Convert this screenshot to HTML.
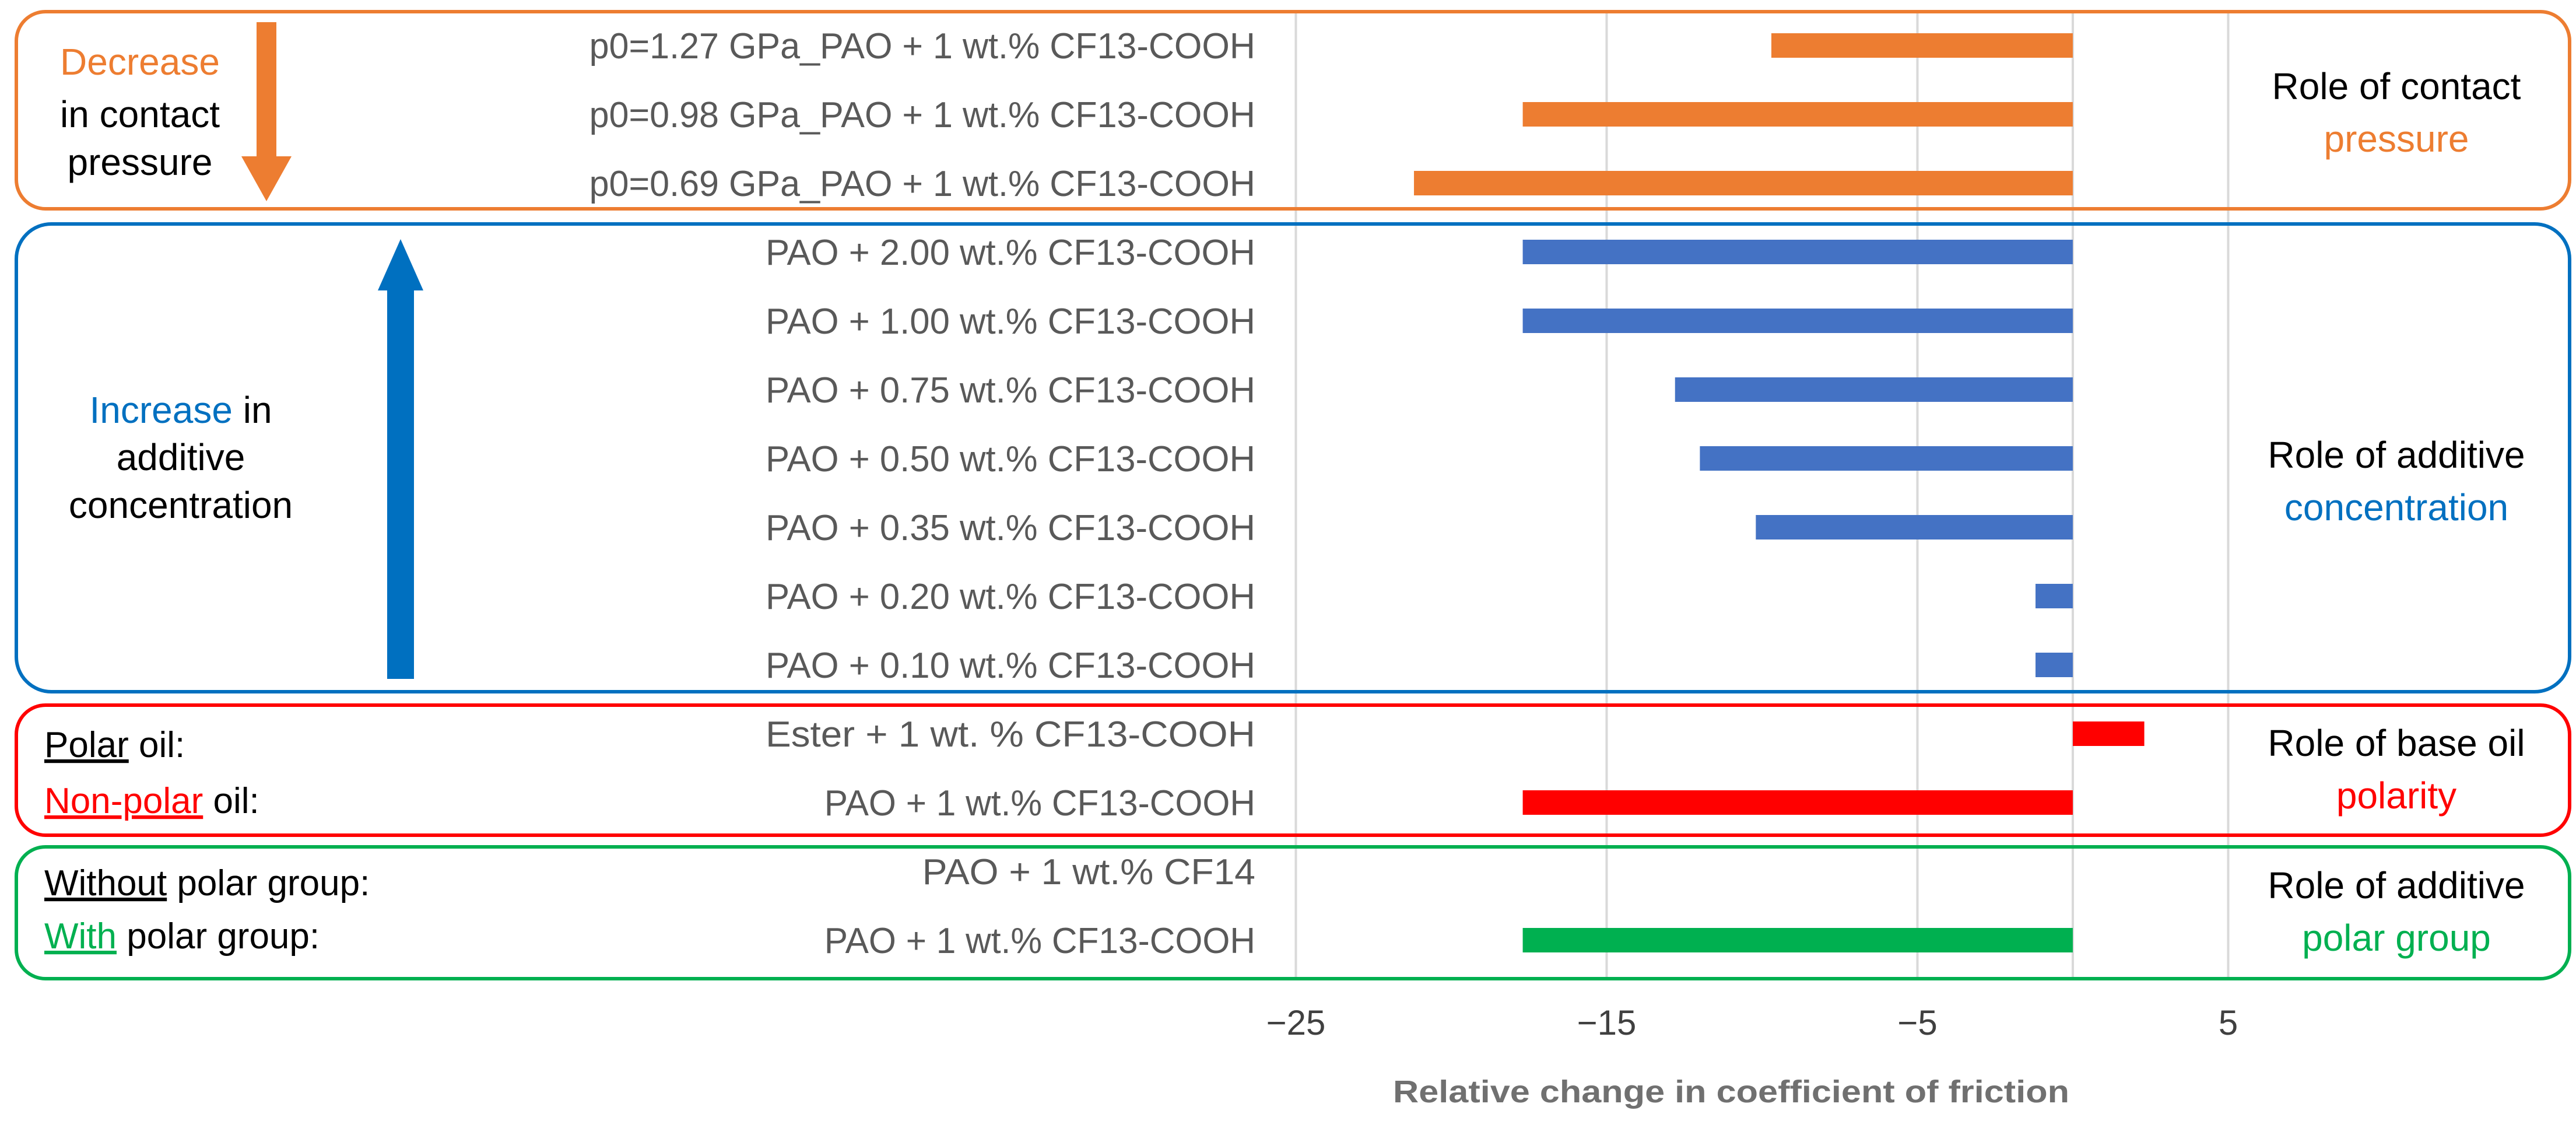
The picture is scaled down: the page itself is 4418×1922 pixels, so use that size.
<!DOCTYPE html>
<html><head><meta charset="utf-8"><style>
html,body{margin:0;padding:0;background:#fff}
svg{display:block;font-family:"Liberation Sans",sans-serif}
</style></head><body>
<svg id="chart" width="4418" height="1922" viewBox="0 0 4418 1922" xmlns="http://www.w3.org/2000/svg">
<g id="grid"></g>
<g id="boxes">
<rect x="28" y="20" width="4379" height="338" rx="50" fill="none" stroke="#ED7D31" stroke-width="6"/>
<rect x="28" y="384" width="4379" height="802" rx="60" fill="none" stroke="#0070C0" stroke-width="6"/>
<rect x="28" y="1209" width="4379" height="223" rx="50" fill="none" stroke="#FF0000" stroke-width="6"/>
<rect x="28" y="1452" width="4379" height="226" rx="50" fill="none" stroke="#00B050" stroke-width="6"/>
</g>
<g id="bars"></g>
<g id="labels" font-size="62" fill="#595959" text-anchor="end"></g>
<g id="ticks" font-size="60" fill="#404040" text-anchor="middle"></g>
<text x="2969" y="1890" font-size="54" font-weight="bold" fill="#707070" text-anchor="middle" textLength="1160" lengthAdjust="spacingAndGlyphs">Relative change in coefficient of friction</text>
<polygon fill="#ED7D31" points="440,38 474,38 474,268 500,268 457,345 414,268 440,268"/>
<polygon fill="#0070C0" points="664,1164 710,1164 710,498 726,498 687,410 648,498 664,498"/>
<g font-size="64" text-anchor="middle">
<text x="240" y="128" fill="#ED7D31">Decrease</text>
<text x="240" y="218" fill="#000">in contact</text>
<text x="240" y="300" fill="#000">pressure</text>
<text x="310" y="725"><tspan fill="#0070C0">Increase</tspan><tspan fill="#000"> in</tspan></text>
<text x="310" y="806" fill="#000">additive</text>
<text x="310" y="888" fill="#000">concentration</text>
<text x="4110" y="170" fill="#000">Role of contact</text>
<text x="4110" y="260" fill="#ED7D31">pressure</text>
<text x="4110" y="802" fill="#000">Role of additive</text>
<text x="4110" y="892" fill="#0070C0">concentration</text>
<text x="4110" y="1296" fill="#000">Role of base oil</text>
<text x="4110" y="1386" fill="#FF0000">polarity</text>
<text x="4110" y="1540" fill="#000">Role of additive</text>
<text x="4110" y="1630" fill="#00B050">polar group</text>
</g>
<g font-size="62" fill="#000">
<text x="76" y="1298"><tspan text-decoration="underline">Polar</tspan> oil:</text>
<text x="76" y="1394"><tspan fill="#FF0000" text-decoration="underline">Non-polar</tspan> oil:</text>
<text x="76" y="1535"><tspan text-decoration="underline">Without</tspan> polar group:</text>
<text x="76" y="1626"><tspan fill="#00B050" text-decoration="underline">With</tspan> polar group:</text>
</g>
</svg>
<script>
const categories = ["p0=1.27 GPa_PAO + 1 wt.% CF13-COOH","p0=0.98 GPa_PAO + 1 wt.% CF13-COOH","p0=0.69 GPa_PAO + 1 wt.% CF13-COOH","PAO + 2.00 wt.% CF13-COOH","PAO + 1.00 wt.% CF13-COOH","PAO + 0.75 wt.% CF13-COOH","PAO + 0.50 wt.% CF13-COOH","PAO + 0.35 wt.% CF13-COOH","PAO + 0.20 wt.% CF13-COOH","PAO + 0.10 wt.% CF13-COOH","Ester + 1 wt. % CF13-COOH","PAO + 1 wt.% CF13-COOH","PAO + 1 wt.% CF14","PAO + 1 wt.% CF13-COOH"];
const values = [-9.7,-17.7,-21.2,-17.7,-17.7,-12.8,-12.0,-10.2,-1.2,-1.2,2.3,-17.7,0,-17.7];
const barColors = ["#ED7D31","#ED7D31","#ED7D31","#4472C4","#4472C4","#4472C4","#4472C4","#4472C4","#4472C4","#4472C4","#FF0000","#FF0000","#00B050","#00B050"];
const ticks = [-25,-15,-5,5];
const gridVals = [-25,-15,-5,0,5];

const NS="http://www.w3.org/2000/svg";
const X0=3555, PX=53.3;
const x = v => X0 + v*PX;
const yc = i => 78 + i*118;
const grid=document.getElementById('grid');
gridVals.forEach(v=>{
  const l=document.createElementNS(NS,'line');
  
  
  l.setAttribute('x1',x(v));l.setAttribute('x2',x(v));
  l.setAttribute('y1',18);l.setAttribute('y2',1680);
  l.setAttribute('stroke','#D9D9D9');l.setAttribute('stroke-width',4);
  grid.appendChild(l);
});
const bars=document.getElementById('bars');
const labels=document.getElementById('labels');
categories.forEach((c,i)=>{
  const v=values[i];
  const r=document.createElementNS(NS,'rect');
  
  
  r.setAttribute('x',Math.min(x(0),x(v)));
  r.setAttribute('width',Math.abs(x(v)-x(0)));
  r.setAttribute('y',yc(i)-21);r.setAttribute('height',42);
  r.setAttribute('fill',barColors[i]);
  bars.appendChild(r);
  const t=document.createElementNS(NS,'text');
  
  
  t.setAttribute('x',2153);t.setAttribute('y',yc(i)+22);
  t.setAttribute('textLength',c.length*33.6);
  t.setAttribute('lengthAdjust','spacingAndGlyphs');
  t.textContent=c;
  labels.appendChild(t);
});
const tk=document.getElementById('ticks');
ticks.forEach(v=>{
  const t=document.createElementNS(NS,'text');
  
  
  t.setAttribute('x',x(v));t.setAttribute('y',1774);
  t.textContent=(v<0?'\u2212':'')+Math.abs(v);
  tk.appendChild(t);
});
</script>
</body></html>
